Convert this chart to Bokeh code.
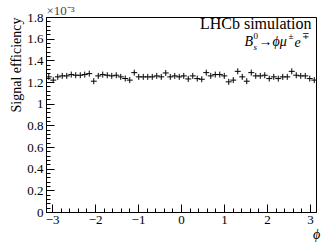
import numpy as np
from bokeh.plotting import figure
from bokeh.models import FixedTicker, Label, Title
from bokeh.embed import file_html
from bokeh.resources import INLINE

# Signal efficiency (units of 1e-3) in 60 bins of phi over [-pi, pi]
eff_e3 = [1.252, 1.222, 1.252, 1.261, 1.261, 1.273, 1.267, 1.267, 1.273, 1.282,
          1.212, 1.261, 1.273, 1.267, 1.261, 1.267, 1.252, 1.237, 1.222, 1.291,
          1.252, 1.252, 1.252, 1.252, 1.261, 1.252, 1.288, 1.252, 1.261, 1.252,
          1.261, 1.233, 1.261, 1.236, 1.230, 1.291, 1.261, 1.273, 1.273, 1.261,
          1.206, 1.222, 1.303, 1.252, 1.212, 1.291, 1.261, 1.261, 1.267, 1.236,
          1.252, 1.236, 1.252, 1.252, 1.303, 1.267, 1.261, 1.261, 1.236, 1.222]
n_bins = len(eff_e3)
edges = np.linspace(-np.pi, np.pi, n_bins + 1)
phi_centres = 0.5 * (edges[:-1] + edges[1:])

x_ticks = [-3, -2, -1, 0, 1, 2, 3]
x_tick_labels = ["\u22123", "\u22122", "\u22121", "0", "1", "2", "3"]
y_ticks = [0, 0.2, 0.4, 0.6, 0.8, 1, 1.2, 1.4, 1.6, 1.8]
y_tick_labels = ["0", "0.2", "0.4", "0.6", "0.8", "1", "1.2", "1.4", "1.6", "1.8"]

FONT = "Liberation Serif"

p = figure(width=332, height=246, x_range=(-np.pi, np.pi), y_range=(0, 1.8),
           output_backend="svg", toolbar_location=None,
           min_border_left=46, min_border_right=16, min_border_top=14, min_border_bottom=34)
p.background_fill_color = "white"
p.border_fill_color = "white"
p.outline_line_color = "black"
p.outline_line_width = 1
p.xgrid.visible = False
p.ygrid.visible = False

# exponent of the y scale, as a title above the frame
p.title.text = "\u00d710\u207b\u00b3"
p.title.align = "left"
p.title.offset = 0
p.title.standoff = 0
p.title.text_font = FONT
p.title.text_font_size = "13px"
p.title.text_font_style = "normal"
p.title.text_line_height = 0.8

p.scatter(phi_centres, eff_e3, marker="cross", size=6, line_color="black", line_width=1)

for ax in (p.xaxis[0], p.yaxis[0]):
    ax.axis_line_color = "black"
    ax.major_tick_line_color = "black"
    ax.minor_tick_line_color = "black"
    ax.major_tick_in = 8
    ax.major_tick_out = 0
    ax.minor_tick_in = 4
    ax.minor_tick_out = 0
    ax.major_label_text_font = FONT
    ax.major_label_text_font_size = "13px"
    ax.major_label_text_color = "black"

p.xaxis[0].ticker = FixedTicker(ticks=x_ticks,
                                minor_ticks=list(np.round(np.arange(-3.2, 3.21, 0.2), 2)))
p.xaxis[0].major_label_overrides = dict(zip(x_ticks, x_tick_labels))
p.xaxis[0].major_label_standoff = 3
p.xaxis[0].axis_label = "\u03d5"
p.xaxis[0].axis_label_text_font = FONT
p.xaxis[0].axis_label_text_color = "black"
p.xaxis[0].axis_label_text_font_size = "14px"
p.xaxis[0].axis_label_text_font_style = "italic"
p.xaxis[0].axis_label_standoff = 0
p.xaxis[0].axis_label_align = "end"

p.yaxis[0].ticker = FixedTicker(ticks=y_ticks,
                                minor_ticks=list(np.round(np.arange(0, 1.81, 0.04), 2)))
p.yaxis[0].major_label_overrides = dict(zip(y_ticks, y_tick_labels))
p.yaxis[0].major_label_standoff = 3

# y-axis title, placed at the top end of the axis (ROOT style)
ytitle = Title(text="Signal efficiency", align="right", text_font=FONT,
               text_font_size="14px", text_font_style="normal", text_color="black",
               standoff=2, offset=0)
p.add_layout(ytitle, "left")

def lab(text, x, y, size, align="left", baseline="middle", style="normal"):
    p.add_layout(Label(text=text, x=x, y=y, x_units="screen", y_units="screen",
                       text_font=FONT, text_font_size=size, text_align=align,
                       text_baseline=baseline, text_font_style=style,
                       text_color="black"))

lab("LHCb simulation", 265, 189, "16px", align="right")
x0 = 198
lab("B", x0, 171, "14px", style="italic")
lab("0", x0 + 9, 177, "9px")
lab("s", x0 + 9, 166, "9px", style="italic")
lab("\u2192\u03d5\u03bc", x0 + 14, 171, "14px", style="italic")
lab("\u00b1", x0 + 44, 177, "9px")
lab("e", x0 + 50, 171, "14px", style="italic")
lab("\u2213", x0 + 57, 177, "9px")

open("out.html", "w").write(file_html(p, INLINE))
